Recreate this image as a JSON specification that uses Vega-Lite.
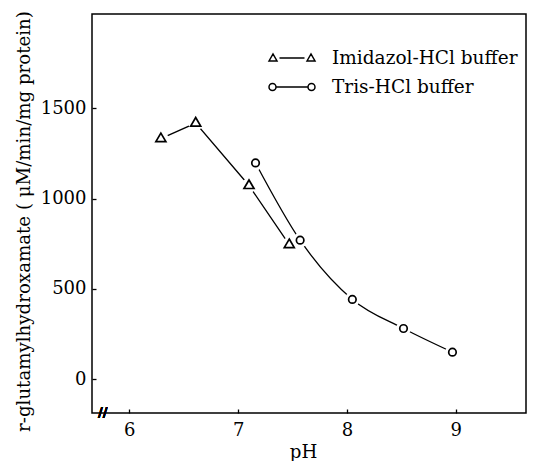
{
  "$schema": "https://vega.github.io/schema/vega-lite/v6.json",
  "width": 434,
  "height": 399,
  "autosize": {"type": "none"},
  "padding": {"left": 92, "top": 14, "right": 13, "bottom": 48},
  "background": "white",
  "config": {
    "view": {"stroke": "black", "strokeWidth": 1.5},
    "font": "DejaVu Serif",
    "axis": {
      "labelFont": "DejaVu Serif",
      "titleFont": "DejaVu Serif",
      "labelFontSize": 18,
      "titleFontSize": 18.2,
      "labelColor": "black",
      "titleColor": "black",
      "titleFontWeight": "normal",
      "tickColor": "black",
      "tickWidth": 1.3,
      "tickSize": -4,
      "domain": false,
      "grid": false
    },
    "legend": {
      "labelFont": "DejaVu Serif",
      "labelFontSize": 18.5,
      "labelColor": "black",
      "labelLimit": 400
    }
  },
  "data": {
    "values": [
      {"pH": 6.29, "activity": 1332, "buffer": "Imidazol-HCl buffer"},
      {"pH": 6.61, "activity": 1418, "buffer": "Imidazol-HCl buffer"},
      {"pH": 7.10, "activity": 1072, "buffer": "Imidazol-HCl buffer"},
      {"pH": 7.47, "activity": 745, "buffer": "Imidazol-HCl buffer"},
      {"pH": 7.16, "activity": 1197, "buffer": "Tris-HCl buffer"},
      {"pH": 7.57, "activity": 769, "buffer": "Tris-HCl buffer"},
      {"pH": 8.05, "activity": 441, "buffer": "Tris-HCl buffer"},
      {"pH": 8.52, "activity": 280, "buffer": "Tris-HCl buffer"},
      {"pH": 8.97, "activity": 149, "buffer": "Tris-HCl buffer"}
    ]
  },
  "encoding": {
    "x": {
      "field": "pH",
      "type": "quantitative",
      "scale": {"domain": [5.657, 9.646], "nice": false, "zero": false},
      "axis": {
        "title": "pH",
        "values": [6, 7, 8, 9],
        "format": "d",
        "labelPadding": 12,
        "titleY": 44,
        "titleX": 211,
        "titleBaseline": "alphabetic"
      }
    },
    "y": {
      "field": "activity",
      "type": "quantitative",
      "scale": {"domain": [-188, 2022], "nice": false, "zero": false},
      "axis": {
        "title": "r-glutamylhydroxamate ( μM/min/mg protein)",
        "values": [0, 500, 1000, 1500],
        "format": "d",
        "labelPadding": 10,
        "titleX": -68,
        "titleY": 207,
        "titleAngle": -90,
        "titleAlign": "center",
        "titleBaseline": "middle"
      }
    }
  },
  "resolve": {"scale": {"shape": "independent"}, "legend": {"shape": "independent"}},
  "layer": [
    {
      "transform": [{"filter": "datum.buffer === 'Imidazol-HCl buffer'"}],
      "mark": {"type": "line", "color": "black", "strokeWidth": 1.3, "interpolate": "linear"},
      "encoding": {}
    },
    {
      "transform": [{"filter": "datum.buffer === 'Tris-HCl buffer'"}],
      "mark": {"type": "line", "color": "black", "strokeWidth": 1.3, "interpolate": "monotone"},
      "encoding": {}
    },
    {
      "mark": {"type": "point", "shape": "circle", "filled": true, "color": "white", "opacity": 1, "size": 220}
    },
    {
      "mark": {"type": "point", "filled": false, "color": "black", "strokeWidth": 1.7, "opacity": 1, "size": 100},
      "encoding": {
        "shape": {
          "field": "buffer",
          "type": "nominal",
          "scale": {
            "domain": ["Imidazol-HCl buffer", "Tris-HCl buffer"],
            "range": ["M0,-1.1 L1,0.6 L-1,0.6 Z", "M-0.75,0 A0.75,0.75 0 1,0 0.75,0 A0.75,0.75 0 1,0 -0.75,0 Z"]
          },
          "legend": null
        }
      }
    },
    {
      "mark": {"type": "point", "filled": false, "color": "black", "strokeWidth": 1.5, "opacity": 1, "size": 0},
      "encoding": {
        "shape": {
          "field": "buffer",
          "type": "nominal",
          "scale": {
            "domain": ["Imidazol-HCl buffer", "Tris-HCl buffer"],
            "range": [
              "M-2.3,0.3 L-1.9,-0.4 L-1.5,0.3 Z M-1.25,0 L1.25,0 M1.5,0.3 L1.9,-0.4 L2.3,0.3 Z",
              "M-2.3,0 A0.35,0.35 0 1,0 -1.6,0 A0.35,0.35 0 1,0 -2.3,0 Z M-1.6,0 L1.6,0 M1.6,0 A0.35,0.35 0 1,0 2.3,0 A0.35,0.35 0 1,0 1.6,0 Z"
            ]
          },
          "legend": {
            "title": null,
            "orient": "none",
            "legendX": 189,
            "legendY": 33,
            "padding": 0,
            "symbolSize": 400,
            "symbolStrokeWidth": 1.5,
            "symbolStrokeColor": "black",
            "symbolOpacity": 1,
            "labelOffset": 29,
            "rowPadding": 8
          }
        }
      }
    },
    {
      "mark": {"type": "text", "text": "//", "fontSize": 13, "fontWeight": "bold", "color": "black", "baseline": "middle", "align": "center"},
      "encoding": {
        "x": {"datum": 5.755},
        "y": {"datum": -188}
      }
    }
  ]
}
